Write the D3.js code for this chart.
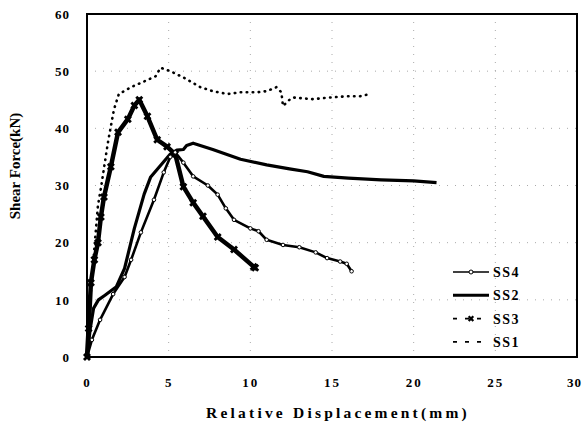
<!DOCTYPE html>
<html>
<head>
<meta charset="utf-8">
<script src="https://cdn.jsdelivr.net/npm/d3@7.9.0/dist/d3.min.js"></script>
<style>
  body { margin: 0; background: #fff; }
  svg text { font-family: "Liberation Serif", "Times New Roman", serif; font-weight: bold; }
</style>
</head>
<body>
<svg id="chart" width="586" height="425"></svg>
<script>
// displacement (mm) / shear force (kN)
const ss1 = [[0,0],[0.1,6],[0.25,12],[0.45,19],[0.67,26.5],[0.85,29.5],[1.28,37.5],[1.65,43.3],[1.95,46],
  [2.7,47.2],[3.5,48.2],[4.2,49.1],[4.5,50.6],[5.1,50],[5.9,48.9],[6.95,47.2],[7.7,46.5],[8.6,46],[9.4,46.3],
  [10.4,46.3],[11,46.5],[11.6,47.2],[11.9,46.3],[12.0,43.9],[12.4,45],[12.6,45.4],[13.8,45.1],[14.9,45.4],
  [15.9,45.6],[16.7,45.6],[17.3,46]];
const ss2 = [[0,0],[0.2,5],[0.4,8.5],[0.7,10],[1.1,10.8],[1.8,12.3],[2.3,15.5],[2.9,22.5],[3.5,28.5],[3.9,31.5],
  [4.5,33.5],[5.1,35.5],[5.5,36.2],[5.9,36.3],[6.1,37],[6.5,37.4],[7.7,36.3],[9.4,34.6],[11,33.6],[12.4,32.9],
  [13.5,32.4],[14.5,31.6],[16,31.3],[18,31],[20,30.8],[21.4,30.5]];
const ss3 = [[0,0],[0.1,5],[0.24,13],[0.45,17],[0.67,20],[0.85,24.5],[1.04,28],[1.46,33.3],[1.9,39.3],[2.5,41.6],
  [2.9,44],[3.2,45],[3.7,42.1],[4.3,38],[4.9,36.8],[5.4,35.5],[5.9,29.8],[6.5,27],[7.1,24.6],[8,21],[9,18.8],
  [10.2,15.8],[10.3,15.6]];
const ss4 = [[0,0],[0.3,3],[0.8,6.5],[1.6,11],[2.3,14],[2.7,17],[3.3,21.8],[4.1,27.5],[4.7,32.3],[5.1,35],[5.4,35.8],
  [5.9,34],[6.5,31.6],[7.4,30],[8,28.4],[8.5,26],[9,24],[10,22.5],[10.5,22],[11,20.5],[12,19.6],[13,19.2],
  [14,18.3],[14.7,17.3],[15.5,16.7],[15.9,16.3],[16.2,15]];

const xTicks = [0, 5, 10, 15, 20, 25, 30];
const yTicks = [0, 10, 20, 30, 40, 50, 60];
const legendNames = ['SS4', 'SS2', 'SS3', 'SS1'];

const svg = d3.select('#chart');
const x = d3.scaleLinear().domain([0, 30]).range([87, 577]);
const y = d3.scaleLinear().domain([0, 60]).range([357, 14]);

// dotted grid
svg.append('g').selectAll('line').data(xTicks.slice(1, -1)).join('line')
  .attr('x1', d => x(d)).attr('x2', d => x(d)).attr('y1', y(60)).attr('y2', y(0))
  .attr('stroke', '#aaa').attr('stroke-width', 1).attr('stroke-dasharray', '1,7');
svg.append('g').selectAll('line').data(yTicks.slice(1, -1)).join('line')
  .attr('x1', x(0)).attr('x2', x(30)).attr('y1', d => y(d)).attr('y2', d => y(d))
  .attr('stroke', '#aaa').attr('stroke-width', 1).attr('stroke-dasharray', '1,7');

// frame
svg.append('rect').attr('x', x(0)).attr('y', y(60)).attr('width', x(30) - x(0)).attr('height', y(0) - y(60))
  .attr('fill', 'none').attr('stroke', '#000').attr('stroke-width', 2);

// axes (labels only)
const xAxis = svg.append('g').attr('transform', `translate(0,${y(0) + 18})`)
  .call(d3.axisBottom(x).tickValues(xTicks).tickSize(0).tickFormat(d3.format('d')));
const yAxis = svg.append('g').attr('transform', `translate(${x(0) - 14},0)`)
  .call(d3.axisLeft(y).tickValues(yTicks).tickSize(0).tickFormat(d3.format('d')));
[xAxis, yAxis].forEach(g => {
  g.select('.domain').remove();
  g.selectAll('text').attr('font-size', 13).attr('fill', '#000')
    .style('font-family', '"Liberation Serif", serif').style('font-weight', 'bold');
});
xAxis.selectAll('text').attr('letter-spacing', 2);
xAxis.selectAll('.tick:last-of-type text').attr('letter-spacing', 1).attr('dx', -3);
yAxis.selectAll('text').attr('letter-spacing', 1);

const line = d3.line().x(d => x(d[0])).y(d => y(d[1]));

// SS1 dotted
svg.append('path').attr('d', line(ss1)).attr('fill', 'none').attr('stroke', '#000')
  .attr('stroke-width', 2.6).attr('stroke-linecap', 'round').attr('stroke-dasharray', '0.5,5.5');

// SS3 thick star line
svg.append('path').attr('d', line(ss3)).attr('fill', 'none').attr('stroke', '#000')
  .attr('stroke-width', 4.5).attr('stroke-linejoin', 'round');
svg.append('g').selectAll('path').data(ss3).join('path')
  .attr('transform', d => `translate(${x(d[0])},${y(d[1])}) rotate(45)`)
  .attr('d', d3.symbol(d3.symbolCross, 40)).attr('fill', '#000');

// SS2 solid thick
svg.append('path').attr('d', line(ss2)).attr('fill', 'none').attr('stroke', '#000')
  .attr('stroke-width', 3.2).attr('stroke-linejoin', 'round');

// SS4 solid with circle markers
svg.append('path').attr('d', line(ss4)).attr('fill', 'none').attr('stroke', '#000')
  .attr('stroke-width', 2.6).attr('stroke-linejoin', 'round');
svg.append('g').selectAll('circle').data(ss4.slice(1)).join('circle')
  .attr('cx', d => x(d[0])).attr('cy', d => y(d[1])).attr('r', 1.8)
  .attr('fill', '#fff').attr('stroke', '#000').attr('stroke-width', 1);

// legend
const leg = svg.append('g').attr('transform', 'translate(453,272)');
legendNames.forEach((name, i) => {
  const g = leg.append('g').attr('transform', `translate(0,${i * 23.3})`);
  const ln = g.append('line').attr('x1', 0).attr('x2', 36).attr('y1', 0).attr('y2', 0).attr('stroke', '#000');
  if (name === 'SS4') {
    ln.attr('stroke-width', 1.6);
    g.append('circle').attr('cx', 18).attr('cy', 0).attr('r', 2).attr('fill', '#fff').attr('stroke', '#000');
  } else if (name === 'SS2') {
    ln.attr('stroke-width', 3);
  } else if (name === 'SS3') {
    ln.attr('stroke-width', 1.6).attr('stroke-dasharray', '4,8');
    g.append('path').attr('transform', 'translate(18,0) rotate(45)')
      .attr('d', d3.symbol(d3.symbolCross, 24)).attr('fill', '#000');
  } else {
    ln.attr('stroke-width', 1.6).attr('stroke-dasharray', '4,8');
  }
  g.append('text').attr('x', 40).attr('y', 5).attr('font-size', 14).attr('letter-spacing', 1.5).text(name);
});

// axis titles
svg.append('text').attr('x', 338).attr('y', 418).attr('text-anchor', 'middle')
  .attr('font-size', 15.5).attr('letter-spacing', 3.2).text('Relative Displacement(mm)');
svg.append('text').attr('transform', 'translate(20,166) rotate(-90)').attr('text-anchor', 'middle')
  .attr('font-size', 15).text('Shear Force(kN)');
</script>
</body>
</html>
